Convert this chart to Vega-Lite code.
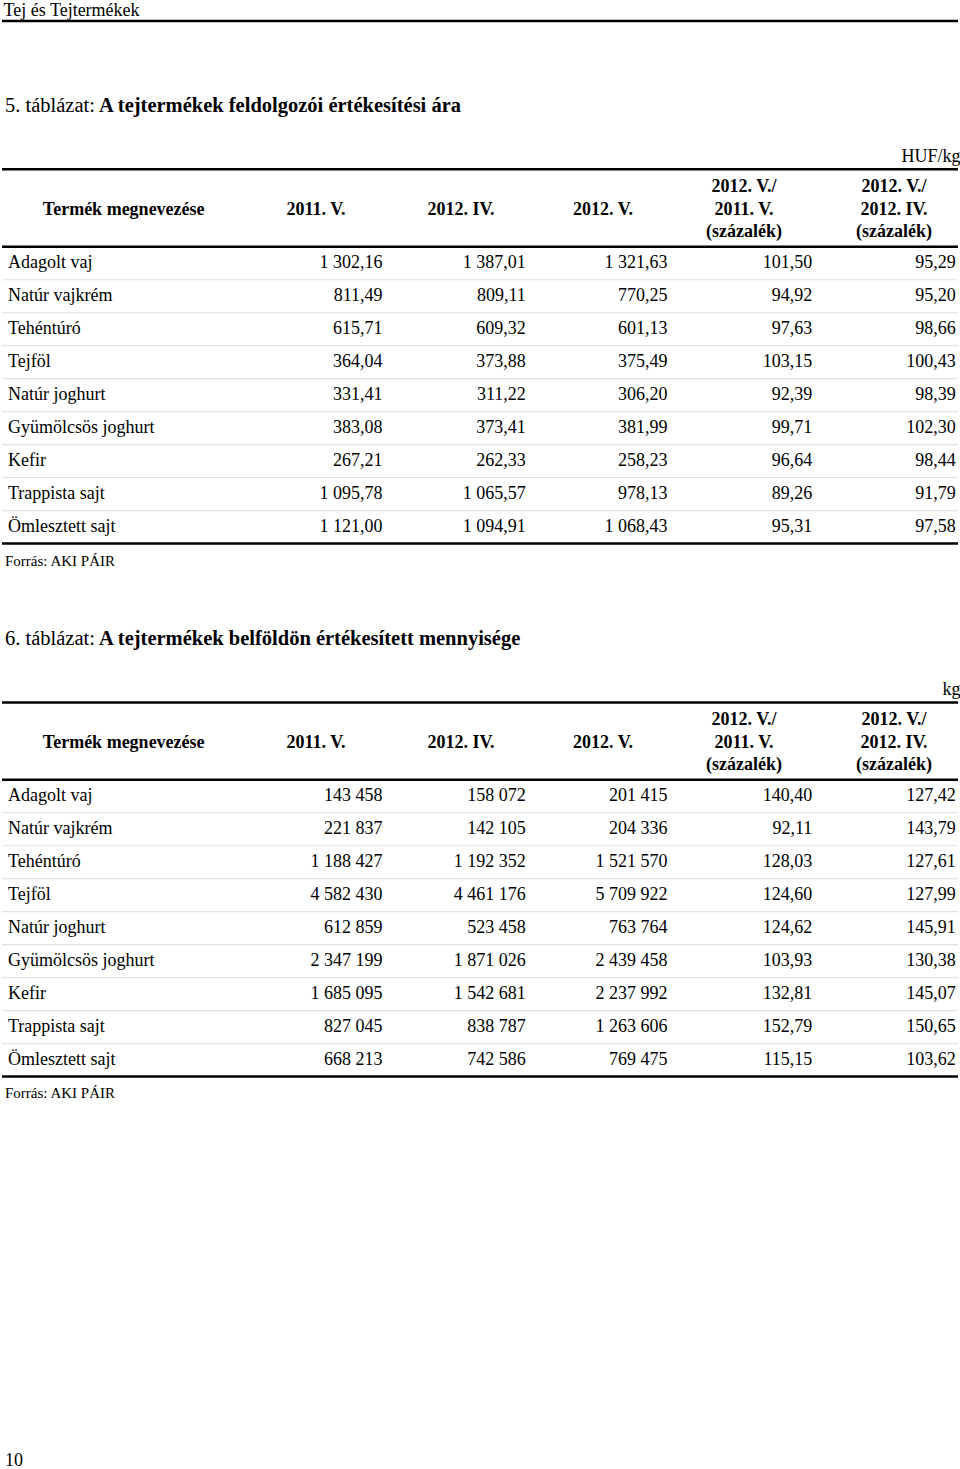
{
  "$schema": "https://vega.github.io/schema/vega-lite/v6.json",
  "width": 960,
  "height": 1469,
  "autosize": {"type": "fit", "contains": "padding"},
  "padding": 0,
  "background": "white",
  "config": {
    "view": {"stroke": null},
    "text": {"font": "Liberation Serif", "fontSize": 18, "color": "#000000", "baseline": "middle"},
    "rule": {"color": "#000000"}
  },
  "datasets": {
    "page": [
      {"el": "head", "v": "Tej és Tejtermékek"},
      {"el": "num", "v": "10"}
    ],
    "frame": [
      {"t": 5, "el": "label", "v": "5. táblázat:"},
      {"t": 5, "el": "title", "v": "A tejtermékek feldolgozói értékesítési ára"},
      {"t": 5, "el": "unit", "v": "HUF/kg"},
      {"t": 5, "el": "source", "v": "Forrás: AKI PÁIR"},
      {"t": 5, "el": "toprule", "v": ""},
      {"t": 6, "el": "label", "v": "6. táblázat:"},
      {"t": 6, "el": "title", "v": "A tejtermékek belföldön értékesített mennyisége"},
      {"t": 6, "el": "unit", "v": "kg"},
      {"t": 6, "el": "source", "v": "Forrás: AKI PÁIR"},
      {"t": 6, "el": "toprule", "v": ""}
    ],
    "head": [
      {"t": 5, "line": 2, "c": 0, "v": "Termék megnevezése"},
      {"t": 5, "line": 2, "c": 1, "v": "2011. V."},
      {"t": 5, "line": 2, "c": 2, "v": "2012. IV."},
      {"t": 5, "line": 2, "c": 3, "v": "2012. V."},
      {"t": 5, "line": 1, "c": 4, "v": "2012. V./"},
      {"t": 5, "line": 2, "c": 4, "v": "2011. V."},
      {"t": 5, "line": 3, "c": 4, "v": "(százalék)"},
      {"t": 5, "line": 1, "c": 5, "v": "2012. V./"},
      {"t": 5, "line": 2, "c": 5, "v": "2012. IV."},
      {"t": 5, "line": 3, "c": 5, "v": "(százalék)"},
      {"t": 6, "line": 2, "c": 0, "v": "Termék megnevezése"},
      {"t": 6, "line": 2, "c": 1, "v": "2011. V."},
      {"t": 6, "line": 2, "c": 2, "v": "2012. IV."},
      {"t": 6, "line": 2, "c": 3, "v": "2012. V."},
      {"t": 6, "line": 1, "c": 4, "v": "2012. V./"},
      {"t": 6, "line": 2, "c": 4, "v": "2011. V."},
      {"t": 6, "line": 3, "c": 4, "v": "(százalék)"},
      {"t": 6, "line": 1, "c": 5, "v": "2012. V./"},
      {"t": 6, "line": 2, "c": 5, "v": "2012. IV."},
      {"t": 6, "line": 3, "c": 5, "v": "(százalék)"}
    ],
    "body": [
      {"t": 5, "r": 1, "c": 0, "v": "Adagolt vaj"}, {"t": 5, "r": 1, "c": 1, "v": "1 302,16"}, {"t": 5, "r": 1, "c": 2, "v": "1 387,01"}, {"t": 5, "r": 1, "c": 3, "v": "1 321,63"}, {"t": 5, "r": 1, "c": 4, "v": "101,50"}, {"t": 5, "r": 1, "c": 5, "v": "95,29"},
      {"t": 5, "r": 2, "c": 0, "v": "Natúr vajkrém"}, {"t": 5, "r": 2, "c": 1, "v": "811,49"}, {"t": 5, "r": 2, "c": 2, "v": "809,11"}, {"t": 5, "r": 2, "c": 3, "v": "770,25"}, {"t": 5, "r": 2, "c": 4, "v": "94,92"}, {"t": 5, "r": 2, "c": 5, "v": "95,20"},
      {"t": 5, "r": 3, "c": 0, "v": "Tehéntúró"}, {"t": 5, "r": 3, "c": 1, "v": "615,71"}, {"t": 5, "r": 3, "c": 2, "v": "609,32"}, {"t": 5, "r": 3, "c": 3, "v": "601,13"}, {"t": 5, "r": 3, "c": 4, "v": "97,63"}, {"t": 5, "r": 3, "c": 5, "v": "98,66"},
      {"t": 5, "r": 4, "c": 0, "v": "Tejföl"}, {"t": 5, "r": 4, "c": 1, "v": "364,04"}, {"t": 5, "r": 4, "c": 2, "v": "373,88"}, {"t": 5, "r": 4, "c": 3, "v": "375,49"}, {"t": 5, "r": 4, "c": 4, "v": "103,15"}, {"t": 5, "r": 4, "c": 5, "v": "100,43"},
      {"t": 5, "r": 5, "c": 0, "v": "Natúr joghurt"}, {"t": 5, "r": 5, "c": 1, "v": "331,41"}, {"t": 5, "r": 5, "c": 2, "v": "311,22"}, {"t": 5, "r": 5, "c": 3, "v": "306,20"}, {"t": 5, "r": 5, "c": 4, "v": "92,39"}, {"t": 5, "r": 5, "c": 5, "v": "98,39"},
      {"t": 5, "r": 6, "c": 0, "v": "Gyümölcsös joghurt"}, {"t": 5, "r": 6, "c": 1, "v": "383,08"}, {"t": 5, "r": 6, "c": 2, "v": "373,41"}, {"t": 5, "r": 6, "c": 3, "v": "381,99"}, {"t": 5, "r": 6, "c": 4, "v": "99,71"}, {"t": 5, "r": 6, "c": 5, "v": "102,30"},
      {"t": 5, "r": 7, "c": 0, "v": "Kefir"}, {"t": 5, "r": 7, "c": 1, "v": "267,21"}, {"t": 5, "r": 7, "c": 2, "v": "262,33"}, {"t": 5, "r": 7, "c": 3, "v": "258,23"}, {"t": 5, "r": 7, "c": 4, "v": "96,64"}, {"t": 5, "r": 7, "c": 5, "v": "98,44"},
      {"t": 5, "r": 8, "c": 0, "v": "Trappista sajt"}, {"t": 5, "r": 8, "c": 1, "v": "1 095,78"}, {"t": 5, "r": 8, "c": 2, "v": "1 065,57"}, {"t": 5, "r": 8, "c": 3, "v": "978,13"}, {"t": 5, "r": 8, "c": 4, "v": "89,26"}, {"t": 5, "r": 8, "c": 5, "v": "91,79"},
      {"t": 5, "r": 9, "c": 0, "v": "Ömlesztett sajt"}, {"t": 5, "r": 9, "c": 1, "v": "1 121,00"}, {"t": 5, "r": 9, "c": 2, "v": "1 094,91"}, {"t": 5, "r": 9, "c": 3, "v": "1 068,43"}, {"t": 5, "r": 9, "c": 4, "v": "95,31"}, {"t": 5, "r": 9, "c": 5, "v": "97,58"},
      {"t": 6, "r": 1, "c": 0, "v": "Adagolt vaj"}, {"t": 6, "r": 1, "c": 1, "v": "143 458"}, {"t": 6, "r": 1, "c": 2, "v": "158 072"}, {"t": 6, "r": 1, "c": 3, "v": "201 415"}, {"t": 6, "r": 1, "c": 4, "v": "140,40"}, {"t": 6, "r": 1, "c": 5, "v": "127,42"},
      {"t": 6, "r": 2, "c": 0, "v": "Natúr vajkrém"}, {"t": 6, "r": 2, "c": 1, "v": "221 837"}, {"t": 6, "r": 2, "c": 2, "v": "142 105"}, {"t": 6, "r": 2, "c": 3, "v": "204 336"}, {"t": 6, "r": 2, "c": 4, "v": "92,11"}, {"t": 6, "r": 2, "c": 5, "v": "143,79"},
      {"t": 6, "r": 3, "c": 0, "v": "Tehéntúró"}, {"t": 6, "r": 3, "c": 1, "v": "1 188 427"}, {"t": 6, "r": 3, "c": 2, "v": "1 192 352"}, {"t": 6, "r": 3, "c": 3, "v": "1 521 570"}, {"t": 6, "r": 3, "c": 4, "v": "128,03"}, {"t": 6, "r": 3, "c": 5, "v": "127,61"},
      {"t": 6, "r": 4, "c": 0, "v": "Tejföl"}, {"t": 6, "r": 4, "c": 1, "v": "4 582 430"}, {"t": 6, "r": 4, "c": 2, "v": "4 461 176"}, {"t": 6, "r": 4, "c": 3, "v": "5 709 922"}, {"t": 6, "r": 4, "c": 4, "v": "124,60"}, {"t": 6, "r": 4, "c": 5, "v": "127,99"},
      {"t": 6, "r": 5, "c": 0, "v": "Natúr joghurt"}, {"t": 6, "r": 5, "c": 1, "v": "612 859"}, {"t": 6, "r": 5, "c": 2, "v": "523 458"}, {"t": 6, "r": 5, "c": 3, "v": "763 764"}, {"t": 6, "r": 5, "c": 4, "v": "124,62"}, {"t": 6, "r": 5, "c": 5, "v": "145,91"},
      {"t": 6, "r": 6, "c": 0, "v": "Gyümölcsös joghurt"}, {"t": 6, "r": 6, "c": 1, "v": "2 347 199"}, {"t": 6, "r": 6, "c": 2, "v": "1 871 026"}, {"t": 6, "r": 6, "c": 3, "v": "2 439 458"}, {"t": 6, "r": 6, "c": 4, "v": "103,93"}, {"t": 6, "r": 6, "c": 5, "v": "130,38"},
      {"t": 6, "r": 7, "c": 0, "v": "Kefir"}, {"t": 6, "r": 7, "c": 1, "v": "1 685 095"}, {"t": 6, "r": 7, "c": 2, "v": "1 542 681"}, {"t": 6, "r": 7, "c": 3, "v": "2 237 992"}, {"t": 6, "r": 7, "c": 4, "v": "132,81"}, {"t": 6, "r": 7, "c": 5, "v": "145,07"},
      {"t": 6, "r": 8, "c": 0, "v": "Trappista sajt"}, {"t": 6, "r": 8, "c": 1, "v": "827 045"}, {"t": 6, "r": 8, "c": 2, "v": "838 787"}, {"t": 6, "r": 8, "c": 3, "v": "1 263 606"}, {"t": 6, "r": 8, "c": 4, "v": "152,79"}, {"t": 6, "r": 8, "c": 5, "v": "150,65"},
      {"t": 6, "r": 9, "c": 0, "v": "Ömlesztett sajt"}, {"t": 6, "r": 9, "c": 1, "v": "668 213"}, {"t": 6, "r": 9, "c": 2, "v": "742 586"}, {"t": 6, "r": 9, "c": 3, "v": "769 475"}, {"t": 6, "r": 9, "c": 4, "v": "115,15"}, {"t": 6, "r": 9, "c": 5, "v": "103,62"}
    ]
  },
  "resolve": {"scale": {"x": "independent", "y": "independent"}},
  "layer": [
    {
      "data": {"name": "page"},
      "mark": {"type": "text", "align": "left"},
      "encoding": {
        "x": {"field": "el", "type": "nominal", "scale": {"type": "point", "domain": ["head", "num"], "range": [1.5, 3], "padding": 0}, "axis": null},
        "y": {"field": "el", "type": "nominal", "scale": {"type": "point", "domain": ["head", "num"], "range": [10.5, 1461], "padding": 0}, "axis": null},
        "text": {"field": "v"}
      }
    },
    {
      "data": {"name": "page"},
      "transform": [{"filter": "datum.el === 'head'"}],
      "mark": {"type": "rule", "strokeWidth": 2.5},
      "encoding": {
        "y": {"field": "el", "type": "nominal", "scale": {"type": "point", "domain": ["head"], "range": [20.9, 20.9], "padding": 0}, "axis": null}
      }
    },
    {
      "data": {"name": "frame"},
      "transform": [{"filter": "datum.el === 'label'"}],
      "mark": {"type": "text", "align": "left", "fontSize": 20.5},
      "encoding": {
        "x": {"field": "t", "type": "quantitative", "scale": {"domain": [5, 6], "range": [3, 3], "nice": false, "zero": false}, "axis": null},
        "y": {"field": "t", "type": "quantitative", "scale": {"domain": [5, 6], "range": [106, 638.5], "nice": false, "zero": false}, "axis": null},
        "text": {"field": "v"}
      }
    },
    {
      "data": {"name": "frame"},
      "transform": [{"filter": "datum.el === 'title'"}],
      "mark": {"type": "text", "align": "left", "fontSize": 20.5, "fontWeight": "bold"},
      "encoding": {
        "x": {"field": "t", "type": "quantitative", "scale": {"domain": [5, 6], "range": [97, 97], "nice": false, "zero": false}, "axis": null},
        "y": {"field": "t", "type": "quantitative", "scale": {"domain": [5, 6], "range": [106, 638.5], "nice": false, "zero": false}, "axis": null},
        "text": {"field": "v"}
      }
    },
    {
      "data": {"name": "frame"},
      "transform": [{"filter": "datum.el === 'unit'"}],
      "mark": {"type": "text", "align": "right"},
      "encoding": {
        "x": {"field": "t", "type": "quantitative", "scale": {"domain": [5, 6], "range": [958.5, 958.5], "nice": false, "zero": false}, "axis": null},
        "y": {"field": "t", "type": "quantitative", "scale": {"domain": [5, 6], "range": [156.5, 689.5], "nice": false, "zero": false}, "axis": null},
        "text": {"field": "v"}
      }
    },
    {
      "data": {"name": "frame"},
      "transform": [{"filter": "datum.el === 'source'"}],
      "mark": {"type": "text", "align": "left", "fontSize": 15},
      "encoding": {
        "x": {"field": "t", "type": "quantitative", "scale": {"domain": [5, 6], "range": [3, 3], "nice": false, "zero": false}, "axis": null},
        "y": {"field": "t", "type": "quantitative", "scale": {"domain": [5, 6], "range": [561, 1093], "nice": false, "zero": false}, "axis": null},
        "text": {"field": "v"}
      }
    },
    {
      "data": {"name": "frame"},
      "transform": [{"filter": "datum.el === 'toprule'"}],
      "mark": {"type": "rule", "strokeWidth": 2.5},
      "encoding": {
        "y": {"field": "t", "type": "quantitative", "scale": {"domain": [5, 6], "range": [169.3, 702.6], "nice": false, "zero": false}, "axis": null}
      }
    },
    {
      "data": {"name": "head"},
      "transform": [{"filter": "datum.t === 5"}],
      "mark": {"type": "text", "align": "center", "fontWeight": "bold"},
      "encoding": {
        "x": {"field": "c", "type": "quantitative", "scale": {"domain": [0, 1, 2, 3, 4, 5], "range": [121.7, 314, 459, 601, 742, 892], "nice": false, "zero": false}, "axis": null},
        "y": {"field": "line", "type": "quantitative", "scale": {"domain": [1, 3], "range": [187, 232], "nice": false, "zero": false}, "axis": null},
        "text": {"field": "v"}
      }
    },
    {
      "data": {"name": "head"},
      "transform": [{"filter": "datum.t === 6"}],
      "mark": {"type": "text", "align": "center", "fontWeight": "bold"},
      "encoding": {
        "x": {"field": "c", "type": "quantitative", "scale": {"domain": [0, 1, 2, 3, 4, 5], "range": [121.7, 314, 459, 601, 742, 892], "nice": false, "zero": false}, "axis": null},
        "y": {"field": "line", "type": "quantitative", "scale": {"domain": [1, 3], "range": [720, 765], "nice": false, "zero": false}, "axis": null},
        "text": {"field": "v"}
      }
    },
    {
      "data": {"name": "body"},
      "transform": [{"filter": "datum.t === 5"}],
      "encoding": {
        "y": {"field": "r", "type": "ordinal", "scale": {"type": "band", "domain": [1, 2, 3, 4, 5, 6, 7, 8, 9], "range": [246.8, 543.5], "paddingInner": 0, "paddingOuter": 0}, "axis": null}
      },
      "layer": [
        {
          "transform": [{"filter": "datum.c === 0 && datum.r < 9"}],
          "mark": {"type": "rule", "color": "#e2e2e2", "strokeWidth": 1.2},
          "encoding": {"y": {"field": "r", "type": "ordinal", "bandPosition": 1, "axis": null}}
        },
        {
          "transform": [{"filter": "datum.c === 0 && datum.r === 1"}],
          "mark": {"type": "rule", "strokeWidth": 2.5},
          "encoding": {"y": {"field": "r", "type": "ordinal", "bandPosition": 0, "axis": null}}
        },
        {
          "transform": [{"filter": "datum.c === 0 && datum.r === 9"}],
          "mark": {"type": "rule", "strokeWidth": 2.5},
          "encoding": {"y": {"field": "r", "type": "ordinal", "bandPosition": 1, "axis": null}}
        },
        {
          "transform": [{"filter": "datum.c === 0"}],
          "mark": {"type": "text", "align": "left"},
          "encoding": {
            "x": {"field": "c", "type": "quantitative", "scale": {"domain": [0, 1, 2, 3, 4, 5], "range": [6, 380.5, 523.8, 665.5, 810.3, 953.8], "nice": false, "zero": false}, "axis": null},
            "text": {"field": "v"}
          }
        },
        {
          "transform": [{"filter": "datum.c > 0"}],
          "mark": {"type": "text", "align": "right"},
          "encoding": {
            "x": {"field": "c", "type": "quantitative", "axis": null},
            "text": {"field": "v"}
          }
        }
      ]
    },
    {
      "data": {"name": "body"},
      "transform": [{"filter": "datum.t === 6"}],
      "encoding": {
        "y": {"field": "r", "type": "ordinal", "scale": {"type": "band", "domain": [1, 2, 3, 4, 5, 6, 7, 8, 9], "range": [779.8, 1076.5], "paddingInner": 0, "paddingOuter": 0}, "axis": null}
      },
      "layer": [
        {
          "transform": [{"filter": "datum.c === 0 && datum.r < 9"}],
          "mark": {"type": "rule", "color": "#e2e2e2", "strokeWidth": 1.2},
          "encoding": {"y": {"field": "r", "type": "ordinal", "bandPosition": 1, "axis": null}}
        },
        {
          "transform": [{"filter": "datum.c === 0 && datum.r === 1"}],
          "mark": {"type": "rule", "strokeWidth": 2.5},
          "encoding": {"y": {"field": "r", "type": "ordinal", "bandPosition": 0, "axis": null}}
        },
        {
          "transform": [{"filter": "datum.c === 0 && datum.r === 9"}],
          "mark": {"type": "rule", "strokeWidth": 2.5},
          "encoding": {"y": {"field": "r", "type": "ordinal", "bandPosition": 1, "axis": null}}
        },
        {
          "transform": [{"filter": "datum.c === 0"}],
          "mark": {"type": "text", "align": "left"},
          "encoding": {
            "x": {"field": "c", "type": "quantitative", "scale": {"domain": [0, 1, 2, 3, 4, 5], "range": [6, 380.5, 523.8, 665.5, 810.3, 953.8], "nice": false, "zero": false}, "axis": null},
            "text": {"field": "v"}
          }
        },
        {
          "transform": [{"filter": "datum.c > 0"}],
          "mark": {"type": "text", "align": "right"},
          "encoding": {
            "x": {"field": "c", "type": "quantitative", "axis": null},
            "text": {"field": "v"}
          }
        }
      ]
    }
  ]
}
